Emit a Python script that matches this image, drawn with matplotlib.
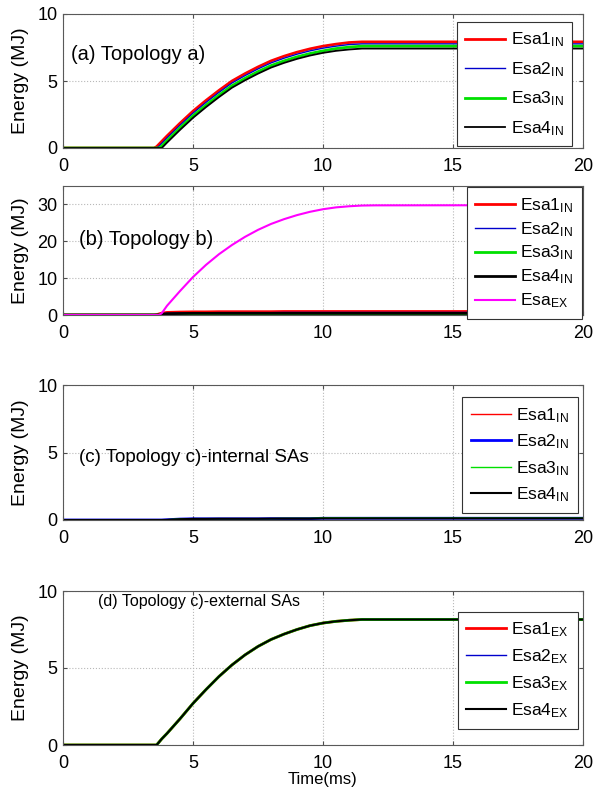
import numpy as np
import matplotlib
matplotlib.use('Agg')
import matplotlib.pyplot as plt

plt.rcParams['font.family'] = ['Liberation Sans', 'DejaVu Sans']
plt.rcParams['mathtext.fontset'] = 'custom'
plt.rcParams['mathtext.rm'] = 'Liberation Sans'
plt.rcParams['mathtext.it'] = 'Liberation Sans'

# tempo (ms)
t = [0, 3.5, 3.6, 3.7, 3.8, 4, 4.5, 5, 5.5, 6, 6.5, 7, 7.5, 8, 8.5, 9,
     9.5, 10, 10.5, 11, 11.5, 12, 20]

# (a) topologia a
a_esa1 = [0, 0, 0.1, 0.3, 0.5, 0.9, 1.85, 2.75, 3.55, 4.3, 5.0, 5.55, 6.05,
          6.5, 6.85, 7.15, 7.4, 7.6, 7.75, 7.87, 7.92, 7.92, 7.92]
a_esa2 = [0, 0, 0, 0.15, 0.35, 0.75, 1.7, 2.6, 3.4, 4.15, 4.85, 5.4, 5.9,
          6.35, 6.7, 7.0, 7.25, 7.45, 7.6, 7.72, 7.77, 7.77, 7.77]
a_esa3 = [0, 0, 0, 0, 0.15, 0.55, 1.5, 2.4, 3.2, 3.95, 4.65, 5.2, 5.7,
          6.15, 6.5, 6.8, 7.05, 7.25, 7.42, 7.53, 7.6, 7.6, 7.6]
a_esa4 = [0, 0, 0, 0, 0, 0.4, 1.35, 2.25, 3.05, 3.8, 4.5, 5.05, 5.55,
          6.0, 6.35, 6.65, 6.9, 7.1, 7.25, 7.35, 7.42, 7.42, 7.42]

# (b) topologia b
b_esa1 = [0, 0, 0.1, 0.3, 0.5, 0.7, 0.8, 0.85, 0.85, 0.9, 0.9, 0.9, 0.9,
          0.9, 0.95, 0.95, 0.95, 0.95, 0.95, 0.95, 0.95, 0.95, 0.95]
b_esa2 = [0, 0, 0, 0.1, 0.3, 0.45, 0.55, 0.6, 0.6, 0.65, 0.65, 0.65, 0.65,
          0.65, 0.7, 0.7, 0.7, 0.7, 0.7, 0.7, 0.7, 0.7, 0.7]
b_esa3 = [0, 0, 0, 0, 0.05, 0.15, 0.2, 0.25, 0.25, 0.25, 0.25, 0.25, 0.25,
          0.25, 0.25, 0.25, 0.25, 0.25, 0.25, 0.25, 0.25, 0.25, 0.25]
b_esa4 = [0, 0, 0, 0, 0.2, 0.35, 0.4, 0.45, 0.45, 0.45, 0.45, 0.45, 0.45,
          0.45, 0.45, 0.45, 0.45, 0.45, 0.45, 0.45, 0.45, 0.45, 0.45]
b_esaex = [0, 0, 0, 0, 0.5, 2.5, 6.5, 10.3, 13.6, 16.5, 19.0, 21.2, 23.1,
           24.7, 26.0, 27.1, 28.0, 28.7, 29.2, 29.5, 29.7, 29.75, 29.8]

# (c) topologia c, SAs internos
c_esa1 = [0, 0, 0, 0, 0, 0.02, 0.08, 0.1, 0.1, 0.1, 0.1, 0.1, 0.1,
          0.1, 0.12, 0.12, 0.12, 0.15, 0.15, 0.15, 0.15, 0.15, 0.15]
c_esa2 = [0, 0, 0, 0, 0, 0.02, 0.07, 0.09, 0.09, 0.09, 0.09, 0.09, 0.09,
          0.1, 0.1, 0.1, 0.1, 0.13, 0.13, 0.13, 0.13, 0.13, 0.13]
c_esa3 = [0, 0, 0, 0, 0, 0.02, 0.08, 0.1, 0.1, 0.1, 0.1, 0.1, 0.1,
          0.1, 0.12, 0.12, 0.12, 0.16, 0.16, 0.16, 0.16, 0.15, 0.15]
c_esa4 = [0, 0, 0, 0, 0, 0.01, 0.06, 0.08, 0.08, 0.09, 0.09, 0.09, 0.09,
          0.1, 0.1, 0.1, 0.1, 0.12, 0.12, 0.12, 0.12, 0.12, 0.12]

# (d) topologia c, SAs externos (as quatro curvas coincidem)
d_esa = [0, 0, 0, 0.2, 0.4, 0.75, 1.7, 2.7, 3.6, 4.45, 5.2, 5.85, 6.4,
         6.85, 7.2, 7.5, 7.75, 7.92, 8.03, 8.1, 8.15, 8.15, 8.15]

xticks = [0, 5, 10, 15, 20]

fig = plt.figure(figsize=(5.94, 7.89), dpi=100)

# posicoes dos eixos (topo e base em pixels)
W, H = 594.0, 789.0
boxes = [(14, 148), (186, 315), (385, 520), (591, 745)]
axes = []
for top, bot in boxes:
    ax = fig.add_axes([63 / W, 1 - bot / H, 520 / W, (bot - top) / H])
    axes.append(ax)


def style_axis(ax, ylim, yticks):
    ax.set_xlim(0, 20)
    ax.set_ylim(*ylim)
    ax.set_xticks(xticks)
    ax.set_yticks(yticks)
    ax.tick_params(direction='in', top=True, right=True, labelsize=13,
                   length=3, color='0.3')
    ax.tick_params(axis='x', pad=7)
    ax.tick_params(axis='y', pad=4)
    ax.grid(True, linestyle=':', color='0.72', linewidth=0.8)
    for s in ax.spines.values():
        s.set_color('0.35')
        s.set_linewidth(0.8)
    ax.set_ylabel('Energy (MJ)', fontsize=14, labelpad=6)


def add_legend(ax, anchor, spacing):
    # anchor = canto superior direito da caixa, em fracao dos eixos
    leg = ax.legend(loc='upper right', bbox_to_anchor=anchor,
                    borderaxespad=0, fontsize=12.5, fancybox=False,
                    edgecolor='0.2', framealpha=1, labelspacing=spacing,
                    handlelength=2.3, handletextpad=0.3, borderpad=0.5)
    leg.get_frame().set_linewidth(0.8)


# painel (a)
ax = axes[0]
ax.plot(t, a_esa1, color='#ff0000', lw=2.0, label='Esa1$_{\\mathrm{IN}}$')
ax.plot(t, a_esa2, color='#0000cc', lw=1.0, label='Esa2$_{\\mathrm{IN}}$')
ax.plot(t, a_esa3, color='#00e000', lw=2.0, label='Esa3$_{\\mathrm{IN}}$')
ax.plot(t, a_esa4, color='black', lw=1.3, label='Esa4$_{\\mathrm{IN}}$')
style_axis(ax, (0, 10), [0, 5, 10])
ax.text(0.3, 7.0, '(a) Topology a)', fontsize=14.5, va='center')
add_legend(ax, (0.979, 0.94), 0.62)

# painel (b)
ax = axes[1]
ax.plot(t, b_esa1, color='#ff0000', lw=2.0, label='Esa1$_{\\mathrm{IN}}$')
ax.plot(t, b_esa2, color='#0000cc', lw=1.0, label='Esa2$_{\\mathrm{IN}}$')
ax.plot(t, b_esa3, color='#00e000', lw=2.0, label='Esa3$_{\\mathrm{IN}}$')
ax.plot(t, b_esa4, color='black', lw=2.0, label='Esa4$_{\\mathrm{IN}}$')
ax.plot(t, b_esaex, color='#ff00ff', lw=1.5, label='Esa$_{\\mathrm{EX}}$')
style_axis(ax, (0, 35), [0, 10, 20, 30])
ax.text(0.6, 20.5, '(b) Topology b)', fontsize=14.5, va='center')
add_legend(ax, (0.998, 0.99), 0.3)

# painel (c)
ax = axes[2]
ax.plot(t, c_esa1, color='#ff0000', lw=1.0, label='Esa1$_{\\mathrm{IN}}$')
ax.plot(t, c_esa2, color='#0000ff', lw=2.0, label='Esa2$_{\\mathrm{IN}}$')
ax.plot(t, c_esa3, color='#00e000', lw=1.0, label='Esa3$_{\\mathrm{IN}}$')
ax.plot(t, c_esa4, color='black', lw=1.5, label='Esa4$_{\\mathrm{IN}}$')
style_axis(ax, (0, 10), [0, 5, 10])
ax.text(0.6, 4.6, '(c) Topology c)-internal SAs', fontsize=13.5,
        va='center')
add_legend(ax, (0.99, 0.91), 0.45)

# painel (d)
ax = axes[3]
ax.plot(t, d_esa, color='#ff0000', lw=2.0, label='Esa1$_{\\mathrm{EX}}$')
ax.plot(t, d_esa, color='#0000cc', lw=1.0, label='Esa2$_{\\mathrm{EX}}$')
ax.plot(t, d_esa, color='#00e000', lw=2.0, label='Esa3$_{\\mathrm{EX}}$')
ax.plot(t, d_esa, color='black', lw=1.5, label='Esa4$_{\\mathrm{EX}}$')
style_axis(ax, (0, 10), [0, 5, 10])
ax.text(1.35, 9.35, '(d) Topology c)-external SAs', fontsize=11.5,
        va='center')
ax.set_xlabel('Time(ms)', fontsize=12, labelpad=0)
add_legend(ax, (0.99, 0.865), 0.48)

fig.savefig('out.png', dpi=100)
